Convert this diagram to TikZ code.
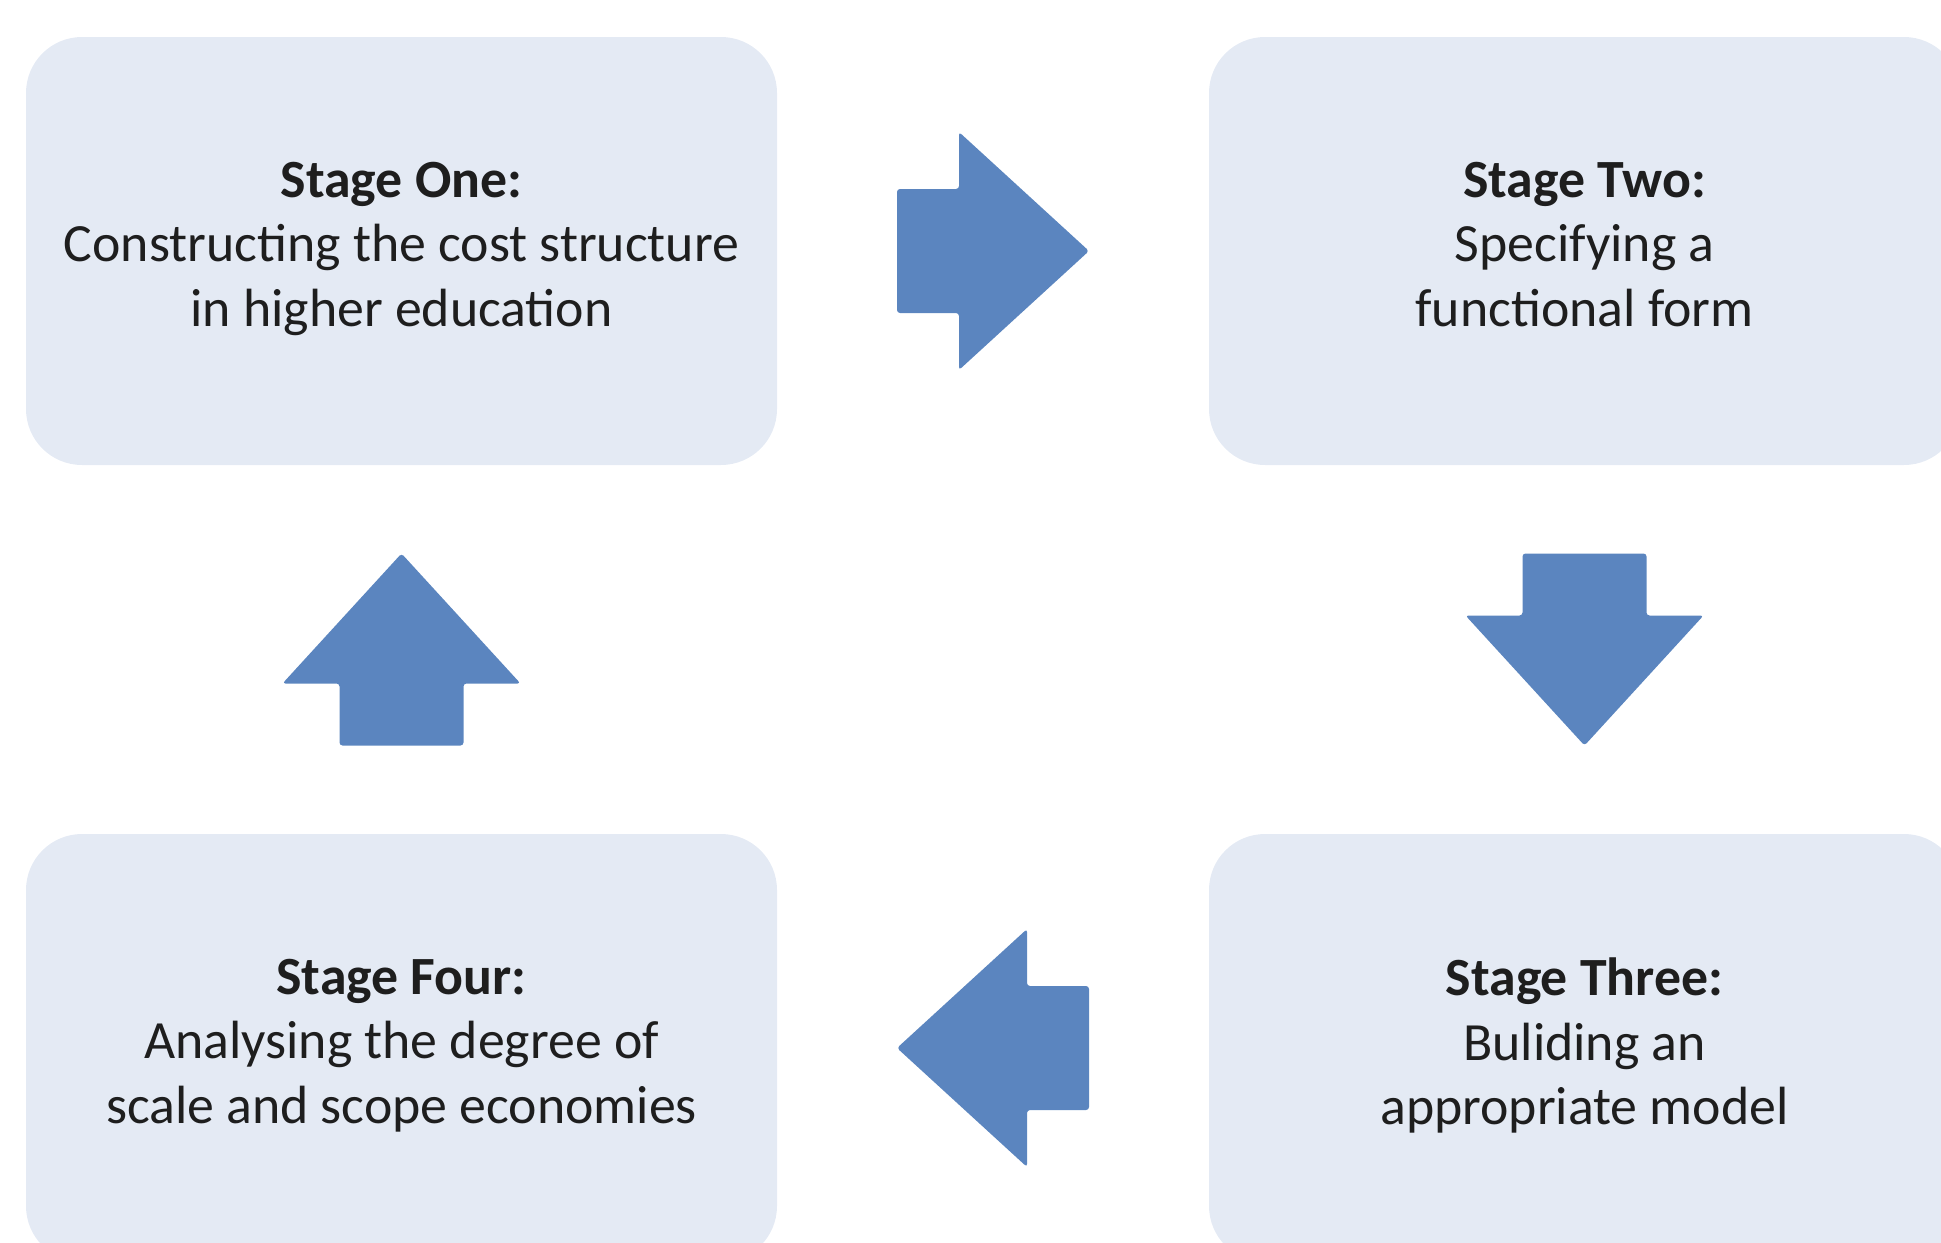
\documentclass[tikz,border=0pt]{standalone}
\usepackage{fontspec}
\setmainfont{Carlito}
\usetikzlibrary{calc}
\definecolor{stagefill}{RGB}{228,234,244}
\definecolor{flowblue}{RGB}{91,133,191}
\definecolor{stagetext}{RGB}{30,30,30}
\tikzset{
	stage/.style = {shape=rectangle, rounded corners=28pt, fill=stagefill, align=center, minimum width=375.5pt, minimum height=214pt, text=stagetext, font=\fontsize{26.9}{32.2}\selectfont, execute at end node={\rule[-6.8pt]{0pt}{6.8pt}}},
	flow/.style = {fill=flowblue, rounded corners=1.5pt},
}
% block arrow: #1 centre, #2 direction
\newcommand{\flowarrow}[2]{%
	\fill[flow, shift={(#1)}, rotate=#2] (-96,-62) -- (-34,-62) -- (-34,-119) -- (96,0) -- (-34,119) -- (-34,62) -- (-96,62) -- cycle;}

\begin{document}
\begin{tikzpicture}[x=0.5pt, y=-0.5pt]
		\useasboundingbox (0,0) rectangle (1941,1242);
		\clip (0,0) rectangle (1941,1242);

		\node[stage] (one) at (401.5, 251) {\textbf{Stage One:}\\Constructing the cost structure\\in higher education};
		\node[stage] (two) at (1584.5, 251) {\textbf{Stage Two:}\\Specifying a\\functional form};
		\node[stage] (three) at (1584.5, 1048) {\textbf{Stage Three:}\\Buliding an\\appropriate model};
		\node[stage] (four) at (401.5, 1048) {\textbf{Stage Four:}\\Analysing the degree of\\scale and scope economies};

		\coordinate (one-two) at ($(one.east)!0.5!(two.west)$);
		\coordinate (two-three) at ($(two.south)!0.5!(three.north)$);
		\coordinate (three-four) at ($(three.west)!0.5!(four.east)$);
		\coordinate (four-one) at ($(four.north)!0.5!(one.south)$);

		\flowarrow{one-two}{0}
		\flowarrow{two-three}{-90}
		\flowarrow{three-four}{180}
		\flowarrow{four-one}{90}
	\end{tikzpicture}
\end{document}
